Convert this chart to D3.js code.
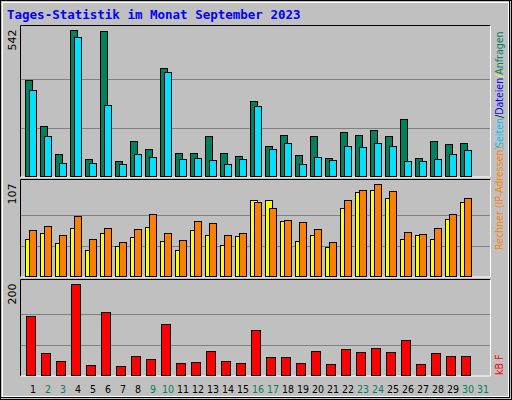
<!DOCTYPE html><html><head><meta charset="utf-8">
<script src="https://cdn.jsdelivr.net/npm/d3@7"></script>
<style>body{margin:0;background:#fff}</style></head><body>
<svg id="c" width="512" height="400"></svg>
<script>
const days = d3.range(1,32).map(String);
const weekend = [2,3,9,10,16,17,23,24,30,31];
const anfragen = [354,185,82,542,64,538,56,130,101,399,86,86,148,86,75,277,112,152,79,148,67,163,152,170,148,211,67,130,119,123,0];
const dateien  = [318,148,49,513,49,262,45,82,71,384,64,67,60,45,64,259,101,123,45,71,60,112,108,123,112,56,56,64,82,97,0];
const besuche  = [43,50,38,56,30,50,35,45,57,41,31,54,48,36,47,88,88,64,41,48,34,79,97,99,90,43,48,43,66,86,0];
const rechner  = [54,58,48,70,43,56,40,55,72,50,42,64,62,48,50,86,79,65,63,55,40,88,100,107,98,51,49,56,72,90,0];
const kbF      = [130,49,31,200,23,139,20,42,36,112,27,29,53,31,27,99,40,40,27,53,25,58,51,60,51,77,25,49,42,42,0];
const maxTop = 542, maxMid = 107, maxBot = 200;

const svg = d3.select("#c");
svg.append("rect").attr("x",0.5).attr("y",0.5).attr("width",511).attr("height",399).attr("fill","#c0c0c0").attr("stroke","#000");
svg.append("rect").attr("x",2.5).attr("y",2.5).attr("width",506).attr("height",394).attr("fill","none").attr("stroke","#fff");
svg.append("rect").attr("x",0.5).attr("y",0.5).attr("width",509).attr("height",397).attr("fill","none").attr("stroke","#000");
svg.append("text").attr("x",7).attr("y",19).attr("fill","#0000ff").attr("font-family","DejaVu Sans Mono").attr("font-weight","bold").attr("font-size",12.5).text("Tages-Statistik im Monat September 2023");

const x = d3.scaleBand().domain(days).range([25,490]).paddingInner(0).paddingOuter(0);
const L=20.5, R=490.5;
function panel(y0,y1,max,label){
  svg.append("line").attr("x1",L).attr("x2",R).attr("y1",y0).attr("y2",y0).attr("stroke","#000");
  svg.append("line").attr("x1",L).attr("x2",L).attr("y1",y0).attr("y2",y1).attr("stroke","#000");
  svg.append("line").attr("x1",R).attr("x2",R).attr("y1",y0).attr("y2",y1).attr("stroke","#fff");
  svg.append("line").attr("x1",L).attr("x2",R).attr("y1",y1).attr("y2",y1).attr("stroke","#fff");
  const y = d3.scaleLinear().domain([0,max]).range([y1-0.5,y0+4]);
  [1/3,2/3].forEach(f=>svg.append("line").attr("x1",L+0.5).attr("x2",R-0.5).attr("y1",Math.round(y(max*f))+0.5).attr("y2",Math.round(y(max*f))+0.5).attr("stroke","#808080"));
  svg.append("text").attr("transform",`translate(16,${y0+4}) rotate(-90)`).attr("text-anchor","end").attr("font-family","DejaVu Sans").attr("font-size",11).text(label);
  return y;
}
function bars(y,data,off,w,fill){
  svg.append("g").selectAll("rect").data(data.map((v,i)=>({d:days[i],v})).filter(o=>o.v>0)).join("rect")
   .attr("x",o=>Math.round(x(o.d))+off+0.5).attr("width",w).attr("y",o=>Math.round(y(o.v))+0.5).attr("height",o=>y(0)-Math.round(y(o.v))-0.5)
   .attr("fill",fill).attr("stroke","#000");
}
const y1 = panel(25.5,177,maxTop,"542");
bars(y1,anfragen,0,7,"#00805c"); bars(y1,dateien,4,7,"#00e0ff");
const y2 = panel(179.5,277,maxMid,"107");
bars(y2,besuche,0,7,"#ffff00"); bars(y2,rechner,4,7,"#ff8000");
const y3 = panel(279.5,376,maxBot,"200");
bars(y3,kbF,1,9,"#ff0000");

svg.append("g").selectAll("text").data(days).join("text")
  .attr("x",d=>x(d)+8).attr("y",393).attr("text-anchor","middle").attr("font-family","DejaVu Sans Condensed").attr("font-size",10.5)
  .attr("fill",d=>weekend.includes(+d)?"#00805c":"#000").text(d=>d);

function vtext(yEnd,parts){
  const t = svg.append("text").attr("transform",`translate(503,${yEnd}) rotate(-90)`).attr("font-family","DejaVu Sans Condensed").attr("font-size",10.5);
  parts.forEach(([s,c])=>t.append("tspan").attr("fill",c).text(s));
}
vtext(250,[["Rechner (IP-Adressen)","#ff8000"]]);
vtext(148,[["Seiten","#00c0ff"],["/","#000"],["Dateien","#0000ff"],["/","#ffff00"],["Anfragen","#00805c"]]);
vtext(375,[["kB F","#ff0000"]]);
</script></body></html>
